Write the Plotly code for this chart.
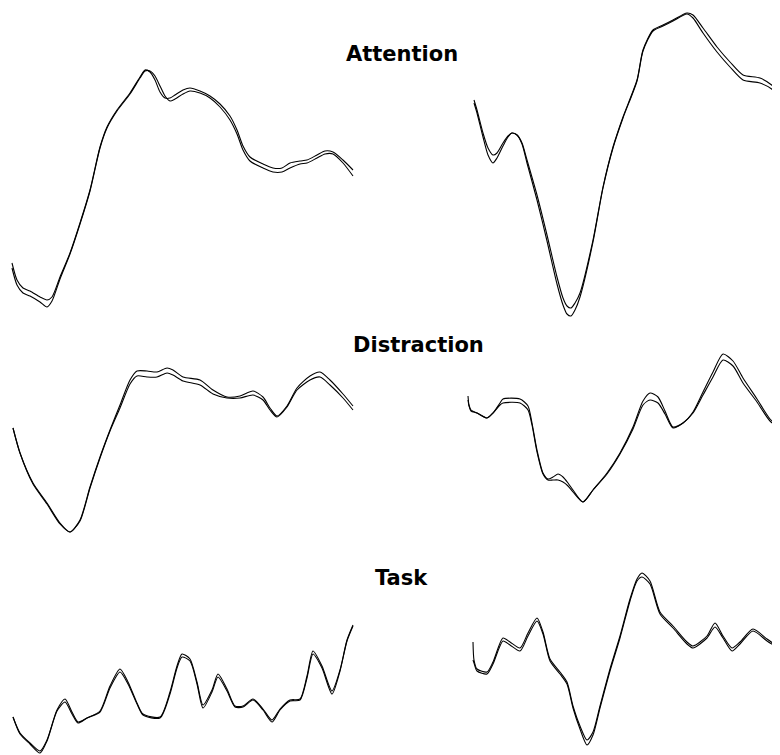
import plotly.graph_objects as go

# Panel data (horizontal sample position, vertical amplitude in screen units; two traces per panel)
att_l_x = [12,17,23,30,40,47,52,60,70,80,90,100,107,117,130,140,145,150,155,160,165,170,175,183,190,200,210,220,230,237,243,250,263,273,282,290,300,307,317,325,333,343,353]
att_l_a = [263,280,288,291,297,300,297,277,253,223,190,147,127,110,93,77,70,72,80,92,98,98,95,90,88,91,96,104,116,130,146,157,164,168,168,163,161,160,155,151,152,160,170]
att_l_b = [268,285,293,296,302,307,301,279,254,224,191,148,128,111,94,78,71,71,76,86,96,101,99,94,91,93,98,107,120,134,150,161,168,172,172,168,164,163,158,154,154,163,176]

att_r_x = [474,477,483,488,493,497,503,508,512,517,522,527,537,547,557,563,567,571,575,580,593,603,613,623,637,643,653,663,673,687,693,703,717,730,743,760,773,780]
att_r_a = [100,110,133,148,155,153,143,136,133,135,143,160,195,235,277,298,306,308,303,293,240,187,147,117,80,50,30,25,20,13,15,28,47,62,75,78,86,93]
att_r_b = [103,113,137,155,163,158,146,137,133,135,144,163,200,241,284,305,314,316,310,297,242,188,148,118,81,51,31,26,21,14,18,33,52,67,80,83,90,98]

dis_l_x = [13,20,33,47,60,70,80,90,100,110,120,130,137,147,157,167,173,183,200,213,227,240,253,263,270,277,287,297,310,320,330,343,353]
dis_l_a = [428,453,483,503,523,532,520,487,457,430,405,380,371,371,372,368,370,377,380,390,397,396,391,397,408,416,406,388,376,372,380,394,406]
dis_l_b = [428,453,484,504,524,532,521,488,458,431,408,384,376,377,377,373,375,381,385,394,398,398,395,400,410,417,407,390,380,377,385,398,410]

dis_r_x = [468,469,471,477,487,493,500,503,520,528,532,537,543,548,553,558,563,568,573,583,593,607,620,633,643,650,658,665,673,683,693,703,713,723,733,743,757,770,780]
dis_r_a = [396,405,410,413,418,413,403,399,399,406,423,450,473,479,477,474,477,483,490,502,490,473,453,427,401,393,397,411,427,423,412,392,372,354,361,378,399,419,427]
dis_r_b = [400,406,411,413,418,413,405,403,403,410,425,452,474,480,480,480,482,486,492,502,490,474,454,429,405,400,403,414,428,423,413,395,377,360,366,383,402,421,428]

task_l_x = [13,20,30,40,47,57,65,72,78,87,100,110,120,128,137,143,160,170,177,182,190,197,203,212,218,227,235,243,253,263,272,280,290,300,307,313,322,332,340,347,353]
task_l_a = [717,733,743,751,740,710,699,712,722,718,711,686,669,682,703,714,717,692,666,654,659,682,705,690,674,689,706,706,699,709,720,709,700,699,676,651,666,691,670,640,625]
task_l_b = [717,734,744,753,741,711,702,714,723,718,712,688,672,684,704,715,718,694,668,657,661,684,708,692,677,691,707,707,700,710,722,710,701,700,678,654,668,694,671,641,626]

task_r_x = [473,474,477,487,493,503,510,520,528,537,543,550,560,567,573,580,587,593,600,610,620,630,637,642,650,660,673,687,693,707,715,723,732,740,753,767,780]
task_r_a = [642,660,669,672,662,638,642,648,633,618,632,659,672,682,706,726,740,732,706,669,636,599,579,573,581,612,626,642,646,636,623,636,648,642,629,639,648]
task_r_b = [660,663,671,674,664,641,645,651,636,621,634,661,674,684,708,729,745,735,708,671,638,601,581,577,584,614,628,644,648,638,627,638,651,644,631,641,649]

titles = ["Attention", "Distraction", "Task"]
title_x = [402, 418, 401]
title_y = [54, 345, 578]

panels = [
    (att_l_x, att_l_a, att_l_b),
    (att_r_x, att_r_a, att_r_b),
    (dis_l_x, dis_l_a, dis_l_b),
    (dis_r_x, dis_r_a, dis_r_b),
    (task_l_x, task_l_a, task_l_b),
    (task_r_x, task_r_a, task_r_b),
]

fig = go.Figure()
for px, pa, pb in panels:
    for py in (pa, pb):
        fig.add_trace(go.Scatter(x=px, y=py, mode="lines",
                                 line=dict(color="black", width=1.1,
                                           shape="spline", smoothing=0.7),
                                 hoverinfo="skip", showlegend=False))

for t, tx, ty in zip(titles, title_x, title_y):
    fig.add_annotation(x=tx, y=ty, text="<b>" + t + "</b>", showarrow=False,
                       xref="x", yref="y", xanchor="center", yanchor="middle",
                       font=dict(family="DejaVu Sans", size=21, color="black"))

# page body has an 8px margin; the figure is sized to fit the window
fig.update_layout(
    width=772, height=747,
    margin=dict(l=0, r=0, t=0, b=0),
    paper_bgcolor="white", plot_bgcolor="white",
    xaxis=dict(range=[8, 780], visible=False, fixedrange=True),
    yaxis=dict(range=[755, 8], visible=False, fixedrange=True),
)

fig.write_html("out.html")
